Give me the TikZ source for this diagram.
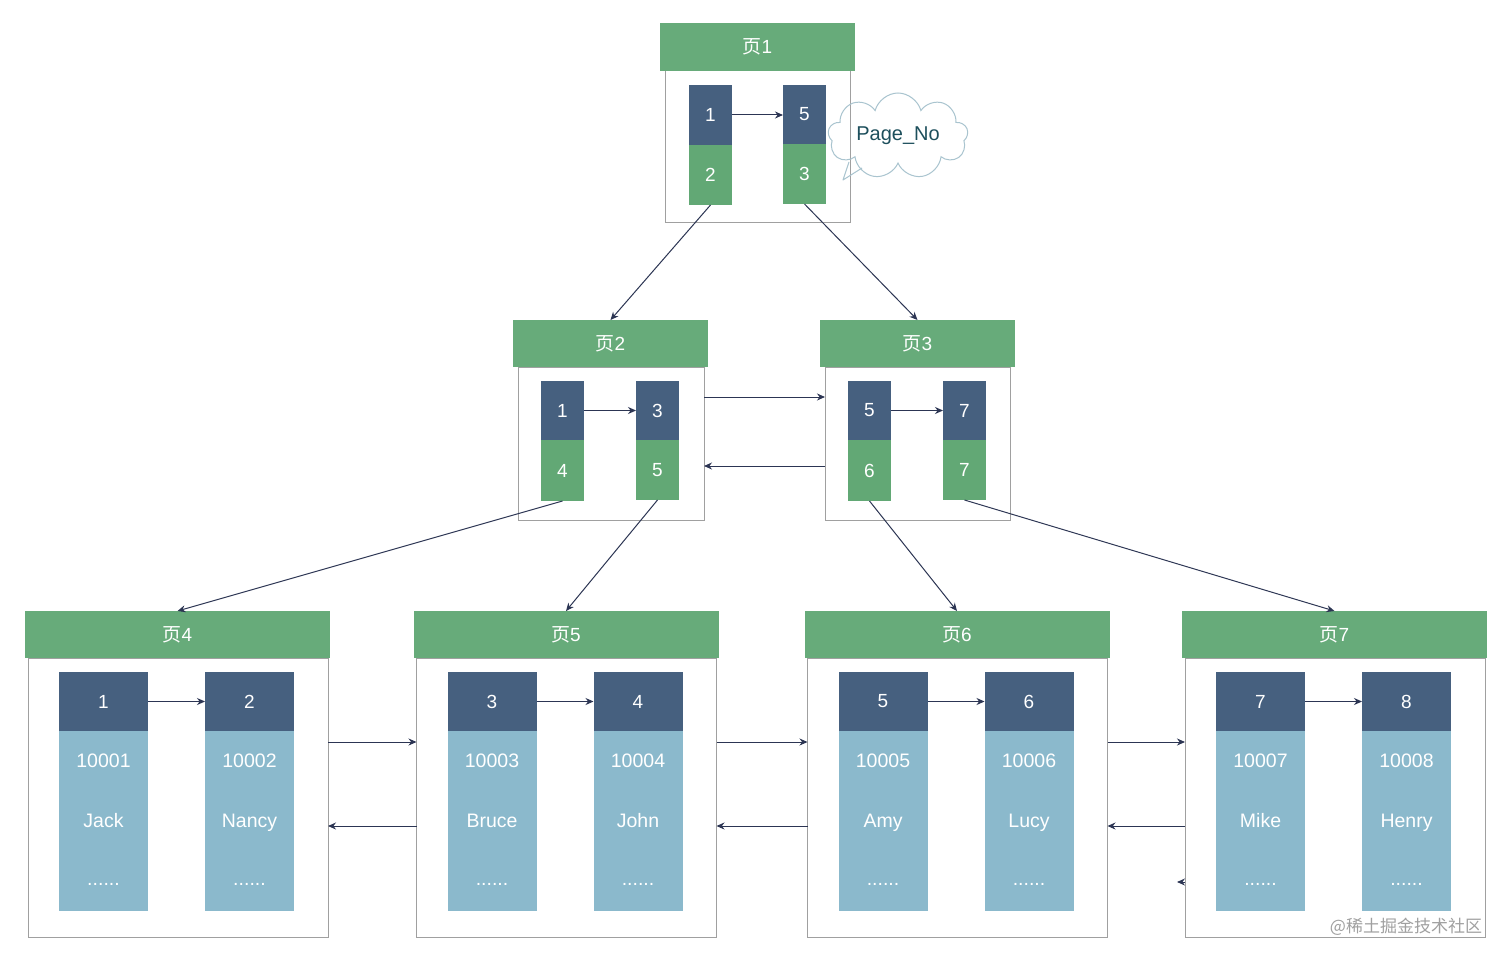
\documentclass[tikz,border=0pt]{standalone}
\usepackage{fontspec}
\setmainfont{Liberation Sans}
\newfontfamily\cjk{Noto Sans CJK SC}
\usetikzlibrary{arrows.meta,shapes.symbols}
\definecolor{hdrgreen}{HTML}{67AB7A}
\definecolor{keyblue}{HTML}{46607F}
\definecolor{ptrgreen}{HTML}{62A875}
\definecolor{datablue}{HTML}{8BB9CC}
\definecolor{bordergray}{HTML}{A0A0A0}
\definecolor{arrowc}{HTML}{2C3553}
\definecolor{cloudline}{HTML}{A9C4CF}
\definecolor{cloudtext}{HTML}{1D4F5C}
\definecolor{wmark}{HTML}{A0A0A0}
\tikzset{
  hdr/.style={fill=hdrgreen, text=white, inner sep=0pt, outer sep=0pt, font=\fontsize{19}{22}\selectfont},
  body/.style={draw=bordergray, line width=1pt, fill=white, inner sep=0pt, outer sep=0pt},
  keycell/.style={fill=keyblue, text=white, inner sep=0pt, outer sep=0pt, font=\fontsize{19}{22}\selectfont},
  ptrcell/.style={fill=ptrgreen, text=white, inner sep=0pt, outer sep=0pt, font=\fontsize{19}{22}\selectfont},
  datacell/.style={fill=datablue, inner sep=0pt, outer sep=0pt, minimum width=89pt, minimum height=180pt},
  datatxt/.style={text=white, inner sep=0pt, text height=14pt, text depth=4pt, font=\fontsize{19.5}{22}\selectfont},
  arr/.style={draw=arrowc, line width=1pt, -{Stealth[length=8pt,width=7pt]}},
  link/.style={draw=arrowc, line width=1pt, -{Stealth[length=8pt,width=7pt]}},
}
\begin{document}
\begin{tikzpicture}[x=1pt,y=-1pt]
\useasboundingbox (0,0) rectangle (1512,963);
\fill[white] (0,0) rectangle (1512,963);

% ---------- page 1 ----------
\node[body, minimum width=185pt, minimum height=151pt] (p1b) at (757.5,146.5) {};
\node[hdr, minimum width=195pt, minimum height=48pt] (p1h) at (757.5,47) {{\cjk 页}1};
\node[keycell, minimum width=43pt, minimum height=60pt] (p1k1) at (710.5,115) {1};
\node[ptrcell, minimum width=43pt, minimum height=60pt] (p1p1) at (710.5,175) {2};
\node[keycell, minimum width=43pt, minimum height=59pt] (p1k2) at (804.5,114.5) {5};
\node[ptrcell, minimum width=43pt, minimum height=60pt] (p1p2) at (804.5,174) {3};
\draw[arr] (p1k1.east) -- (p1k2.west |- p1k1.east);

% cloud with speech tail
\node[cloud, cloud puffs=9, cloud ignores aspect, draw=cloudline, line width=1pt,
      text=cloudtext, font=\fontsize{20}{24}\selectfont,
      minimum width=140pt, minimum height=86pt, inner sep=2pt] (cloud) at (898,136) {Page\_No};
\coordinate (cp) at (843,180);
\coordinate (ta) at (849,162);
\coordinate (tb) at (862,168);
\draw[cloudline, line width=1pt, line join=round] (ta) -- (cp) -- (tb);

% ---------- page 2 ----------
\node[body, minimum width=186pt, minimum height=153pt] (p2b) at (611,443.5) {};
\node[hdr, minimum width=195pt, minimum height=47pt] (p2h) at (610.5,343.5) {{\cjk 页}2};
\node[keycell, minimum width=43pt, minimum height=59pt] (p2k1) at (562.5,410.5) {1};
\node[ptrcell, minimum width=43pt, minimum height=61pt] (p2p1) at (562.5,470.5) {4};
\node[keycell, minimum width=43pt, minimum height=59pt] (p2k2) at (657.5,410.5) {3};
\node[ptrcell, minimum width=43pt, minimum height=60pt] (p2p2) at (657.5,470) {5};
\draw[arr] (p2k1.east) -- (p2k2.west |- p2k1.east);

% ---------- page 3 ----------
\node[body, minimum width=185pt, minimum height=153pt] (p3b) at (917.5,443.5) {};
\node[hdr, minimum width=195pt, minimum height=47pt] (p3h) at (917.5,343.5) {{\cjk 页}3};
\node[keycell, minimum width=43pt, minimum height=59pt] (p3k1) at (869.5,410.5) {5};
\node[ptrcell, minimum width=43pt, minimum height=61pt] (p3p1) at (869.5,470.5) {6};
\node[keycell, minimum width=43pt, minimum height=59pt] (p3k2) at (964.5,410.5) {7};
\node[ptrcell, minimum width=43pt, minimum height=60pt] (p3p2) at (964.5,470) {7};
\draw[arr] (p3k1.east) -- (p3k2.west |- p3k1.east);

\draw[arr] (p2b.east |- 0,397) -- (p3b.west |- 0,397);
\draw[arr] (p3b.west |- 0,466) -- (p2b.east |- 0,466);

% ---------- leaf pages ----------
\foreach \n/\cx/\ka/\kb/\ia/\ib/\na/\nb in {
  4/177.5/1/2/10001/10002/Jack/Nancy,
  5/566/3/4/10003/10004/Bruce/John,
  6/957/5/6/10005/10006/Amy/Lucy,
  7/1334.5/7/8/10007/10008/Mike/Henry}{
  \node[body, minimum width=300pt, minimum height=279pt] (p\n b) at (\cx+0.5,797.5) {};
  \node[hdr, minimum width=305pt, minimum height=47pt] (p\n h) at (\cx,634.5) {{\cjk 页}\n};
  \node[keycell, minimum width=89pt, minimum height=59pt] (p\n k1) at (\cx-74,701.5) {\ka};
  \node[keycell, minimum width=89pt, minimum height=59pt] (p\n k2) at (\cx+72,701.5) {\kb};
  \node[datacell] (p\n d1) at (\cx-74,821) {};
  \node[datacell] (p\n d2) at (\cx+72,821) {};
  \node[datatxt] (p\n i1) at (\cx-74,762) {\ia};
  \node[datatxt] (p\n i2) at (\cx+72,762) {\ib};
  \node[datatxt] (p\n n1) at (\cx-74,822) {\na};
  \node[datatxt] (p\n n2) at (\cx+72,822) {\nb};
  \node[datatxt] (p\n e1) at (\cx-74,880) {......};
  \node[datatxt] (p\n e2) at (\cx+72,880) {......};
  \draw[arr] (p\n k1.east) -- (p\n k2.west);
}

% leaf sibling links
\draw[arr] (p4b.east |- 0,742) -- (p5b.west |- 0,742);
\draw[arr] (p5b.west |- 0,826) -- (p4b.east |- 0,826);
\draw[arr] (p5b.east |- 0,742) -- (p6b.west |- 0,742);
\draw[arr] (p6b.west |- 0,826) -- (p5b.east |- 0,826);
\draw[arr] (p6b.east |- 0,742) -- (p7b.west |- 0,742);
\draw[arr] (p7b.west |- 0,826) -- (p6b.east |- 0,826);
\coordinate (stray) at (1177,882);
\draw[arr] (p7b.west |- stray) -- (stray);

% ---------- tree links ----------
\draw[link] (p1p1.south) -- (p2h.north);
\draw[link] (p1p2.south) -- (p3h.north);
\draw[link] (p2p1.south) -- (p4h.north);
\draw[link] (p2p2.south) -- (p5h.north);
\draw[link] (p3p1.south) -- (p6h.north);
\draw[link] (p3p2.south) -- (p7h.north);

% watermark
\node[text=wmark, font=\cjk\fontsize{17}{20}\selectfont, inner sep=0pt] (wm) at (1406,927) {@稀土掘金技术社区};
\end{tikzpicture}
\end{document}
